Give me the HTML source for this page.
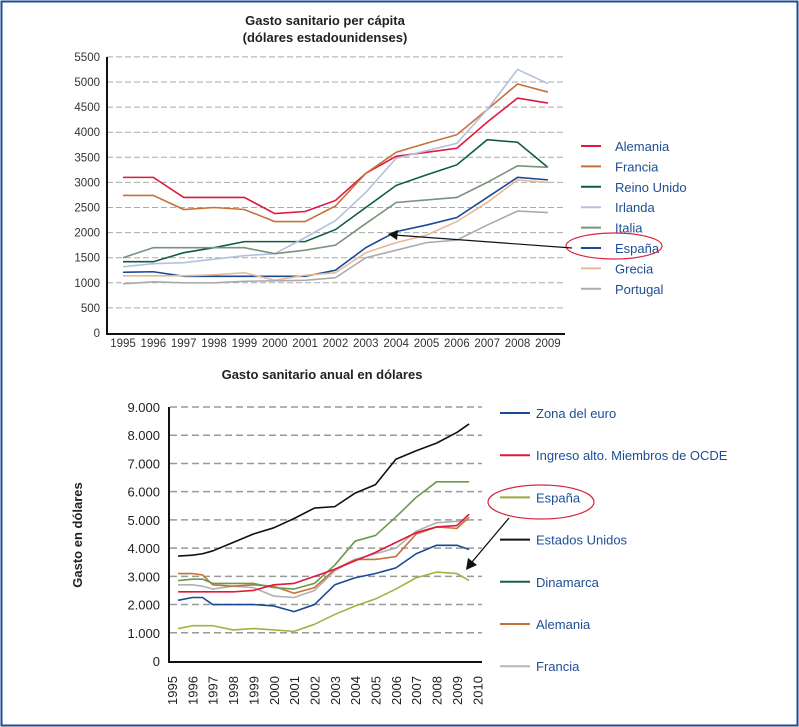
<!DOCTYPE html>
<html><head><meta charset="utf-8">
<style>
html,body{margin:0;padding:0;background:#fff;}
svg{display:block;font-family:"Liberation Sans",sans-serif;}
</style></head>
<body>
<svg id="svg" width="799" height="727" viewBox="0 0 799 727" xmlns="http://www.w3.org/2000/svg">
<rect x="1.5" y="1.5" width="796" height="724" fill="#fff" stroke="#1d4e94" stroke-width="2"/>
<text x="325" y="25" text-anchor="middle" font-size="13" font-weight="bold" fill="#222">Gasto sanitario per cápita</text>
<text x="325" y="42" text-anchor="middle" font-size="13" font-weight="bold" fill="#222">(dólares estadounidenses)</text>
<g id="c1"></g>
<text x="322" y="379" text-anchor="middle" font-size="13" font-weight="bold" fill="#222">Gasto sanitario anual en dólares</text>
<text transform="translate(82,535) rotate(-90)" text-anchor="middle" font-size="13" font-weight="bold" fill="#222">Gasto en dólares</text>
<g id="c2"></g>
</svg>
<script>
const NS="http://www.w3.org/2000/svg";
function mk(parent,tag,attrs){const e=document.createElementNS(NS,tag);for(const k in attrs)e.setAttribute(k,attrs[k]);parent.appendChild(e);return e;}

// ---- Chart 1 data ----
const years1=[1995,1996,1997,1998,1999,2000,2001,2002,2003,2004,2005,2006,2007,2008,2009];
const ticks1=[0,500,1000,1500,2000,2500,3000,3500,4000,4500,5000,5500];
const names1=["Alemania","Francia","Reino Unido","Irlanda","Italia","España","Grecia","Portugal"];
const colors1=["#e0173f","#c8703a","#0f5c3f","#b4c0e0","#7a927a","#1a4a94","#e8b898","#aaaaaa"];
const alemania1=[3100,3100,2700,2700,2700,2380,2420,2640,3180,3520,3600,3680,4200,4680,4580];
const francia1=[2740,2740,2460,2500,2460,2220,2220,2530,3180,3600,3780,3950,4450,4960,4800];
const reinoUnido1=[1420,1420,1600,1700,1820,1820,1820,2060,2500,2940,3150,3350,3850,3800,3300];
const irlanda1=[1320,1380,1400,1470,1540,1580,1900,2240,2800,3480,3630,3780,4450,5250,4970];
const italia1=[1500,1700,1700,1700,1700,1580,1650,1750,2180,2600,2650,2700,3000,3330,3300];
const espana1=[1210,1220,1130,1130,1130,1130,1130,1250,1700,2020,2150,2300,2700,3100,3050];
const grecia1=[1140,1140,1140,1160,1200,1050,1150,1200,1600,1800,1950,2220,2600,3050,3000];
const portugal1=[980,1020,1000,1000,1030,1040,1050,1100,1500,1650,1800,1850,2150,2430,2400];
const series1=[alemania1,francia1,reinoUnido1,irlanda1,italia1,espana1,grecia1,portugal1];

const c1=document.getElementById('c1');
const x1=y=>123+(y-1995)*30.35;
const y1=v=>333-v*0.0502;
ticks1.forEach(t=>{
  if(t>0){const g=mk(c1,'line',{x1:107,x2:565,y1:y1(t),y2:y1(t),stroke:'#aaa','stroke-width':1,'stroke-dasharray':'6,3'});
  
  }
  const l=mk(c1,'text',{x:100,y:y1(t)+4,'text-anchor':'end','font-size':11.5,fill:'#333'});l.textContent=t;
  
  
});
years1.forEach(yr=>{
  const l=mk(c1,'text',{x:x1(yr),y:347,'text-anchor':'middle','font-size':11.5,fill:'#333'});l.textContent=yr;
  
  
});
series1.forEach((s,i)=>{
  const p=mk(c1,'polyline',{points:s.map((v,j)=>x1(years1[j])+','+y1(v)).join(' '),fill:'none',stroke:colors1[i],'stroke-width':1.6});
  
  
  const ly=146+i*20.4;
  const ll=mk(c1,'line',{x1:581,x2:601,y1:ly,y2:ly,stroke:colors1[i],'stroke-width':2});
  
  
  const lt=mk(c1,'text',{x:615,y:ly+5,'font-size':13,fill:'#1d4e94'});lt.textContent=names1[i];
  
  
});
const ax1=mk(c1,'path',{d:'M107,57 V334 H565',fill:'none',stroke:'#111','stroke-width':2});


const e1=mk(c1,'ellipse',{cx:614,cy:246,rx:48,ry:13,fill:'none',stroke:'#d8263f','stroke-width':1.2});


const a1=mk(c1,'line',{x1:572,y1:248,x2:394,y2:235,stroke:'#111','stroke-width':1.2});


const ah1=mk(c1,'polygon',{points:'388,234 398,230 397,240',fill:'#111'});



// ---- Chart 2 data ----
const years2=[1995.3,1996,1996.5,1997,1998,1999,2000,2001,2002,2003,2004,2005,2006,2007,2008,2009,2009.6];
const xLabels2=[1995,1996,1997,1998,1999,2000,2001,2002,2003,2004,2005,2006,2007,2008,2009,2010];
const ticks2=[0,1000,2000,3000,4000,5000,6000,7000,8000,9000];
const tickLabels2=["0","1.000","2.000","3.000","4.000","5.000","6.000","7.000","8.000","9.000"];
const names2=["Zona del euro","Ingreso alto. Miembros de OCDE","España","Estados Unidos","Dinamarca","Alemania","Francia"];
const legendColors2=["#1a4a94","#e0173f","#9aaa40","#111111","#1a6040","#c8703a","#b8b8b8"];
const lineColors2=["#1a4a94","#e0173f","#a8b040","#111111","#6a9a4a","#c8703a","#b0b0b0"];
const zonaEuro2=[2150,2250,2250,2000,2000,2000,1950,1750,2000,2700,2950,3100,3300,3800,4100,4100,3950];
const ingresoAlto2=[2450,2450,2450,2450,2450,2500,2700,2750,3000,3250,3550,3850,4200,4550,4750,4800,5200];
const espana2=[1150,1250,1250,1250,1100,1150,1100,1050,1300,1650,1950,2200,2550,2950,3150,3100,2850];
const eeuu2=[3720,3750,3800,3900,4200,4500,4720,5050,5420,5470,5950,6250,7150,7450,7720,8100,8400];
const dinamarca2=[2850,2900,2900,2750,2750,2750,2600,2550,2750,3400,4250,4450,5100,5800,6350,6350,6350];
const alemania2=[3100,3100,3050,2700,2650,2700,2650,2400,2600,3250,3600,3600,3700,4500,4750,4700,5100];
const francia2=[2700,2700,2650,2550,2650,2600,2300,2250,2500,3200,3600,3800,4000,4600,4900,4950,5000];
const series2=[zonaEuro2,ingresoAlto2,espana2,eeuu2,dinamarca2,alemania2,francia2];

const c2=document.getElementById('c2');
const x2=y=>172+(y-1995)*20.35;
const y2=v=>661-v*0.02822;
ticks2.forEach((t,i)=>{
  if(t>0){const g=mk(c2,'line',{x1:170,x2:482,y1:y2(t),y2:y2(t),stroke:'#999','stroke-width':1.5,'stroke-dasharray':'7,4'});
  
  }
  const l=mk(c2,'text',{x:160,y:y2(t)+5,'text-anchor':'end','font-size':13,fill:'#222'});l.textContent=tickLabels2[i];
  
  
});
xLabels2.forEach(yr=>{
  const l=mk(c2,'text',{transform:'translate('+(x2(yr)+5)+',705) rotate(-90)','font-size':13,fill:'#222'});l.textContent=yr;
  
  
});
// draw order: grey, orange, green, red, blue, black, espana
[6,5,4,1,0,3,2].forEach(i=>{
  const s=series2[i];
  const p=mk(c2,'polyline',{points:s.map((v,j)=>x2(years2[j])+','+y2(v)).join(' '),fill:'none',stroke:lineColors2[i],'stroke-width':1.6,'stroke-linejoin':'round'});
  
  
});
names2.forEach((n,i)=>{
  const ly=413+i*42.2;
  const ll=mk(c2,'line',{x1:500,x2:530,y1:ly,y2:ly,stroke:legendColors2[i],'stroke-width':2});
  
  
  const lt=mk(c2,'text',{x:536,y:ly+5,'font-size':13,fill:'#1d4e94'});lt.textContent=n;
  
  
});
const ax2=mk(c2,'path',{d:'M169,407 V662 H482',fill:'none',stroke:'#111','stroke-width':2});


const e2=mk(c2,'ellipse',{cx:541,cy:502,rx:53,ry:17,fill:'none',stroke:'#d8263f','stroke-width':1.2});


const a2=mk(c2,'line',{x1:509,y1:518,x2:472,y2:562,stroke:'#111','stroke-width':1.3});


const ah2=mk(c2,'polygon',{points:'466,570 468,558 477,565',fill:'#111'});


</script>
</body></html>
